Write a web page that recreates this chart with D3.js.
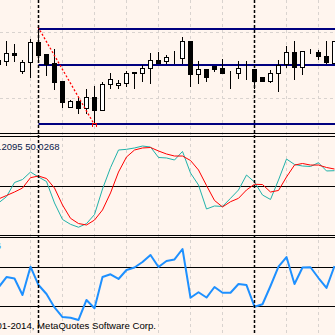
<!DOCTYPE html>
<html>
<head>
<meta charset="utf-8">
<script src="https://cdn.jsdelivr.net/npm/d3@7"></script>
<style>
  html, body { margin: 0; padding: 0; background: #fff5ee; }
  svg { display: block; }
</style>
</head>
<body>
<div id="chart"></div>
<script>
// bars (index 0 is the partly hidden bar at the left edge)
const opens = [1.3740, 1.3739, 1.3747, 1.3729, 1.3738, 1.3758, 1.3746, 1.3737, 1.3719, 1.3693,
  1.3699, 1.3692, 1.3703, 1.3690, 1.3716, 1.3715, 1.3717, 1.3727, 1.3727, 1.3732,
  1.3740, 1.3739, 1.37425, 1.3742, 1.3759, 1.3726, 1.3731, 1.3734, 1.3732, 1.3728,
  1.3727, 1.3732, 1.3731, 1.3723, 1.3719, 1.3727, 1.3736, 1.3748, 1.3733, 1.3748,
  1.3748, 1.3744, 1.3737];
const highs = [1.3742, 1.3759, 1.3756, 1.3740, 1.3761, 1.3773, 1.3746, 1.3751, 1.3719, 1.3700,
  1.3702, 1.3711, 1.3714, 1.3718, 1.3727, 1.3720, 1.3729, 1.3728, 1.3735, 1.3747,
  1.3748, 1.3745, 1.3749, 1.3763, 1.3759, 1.3739, 1.3731, 1.3734, 1.3741, 1.3729,
  1.3739, 1.3739, 1.3731, 1.3723, 1.3730, 1.3740, 1.3754, 1.3759, 1.3749, 1.3751,
  1.3750, 1.3759, 1.3759];
const lows = [1.3734, 1.3735, 1.3739, 1.3727, 1.3723, 1.3741, 1.3725, 1.3711, 1.3693, 1.3693,
  1.3687, 1.3687, 1.3676, 1.3690, 1.3712, 1.3712, 1.3714, 1.3712, 1.3719, 1.3717,
  1.3737, 1.3737, 1.3737, 1.3737, 1.3714, 1.3717, 1.3719, 1.3729, 1.3727, 1.3712,
  1.3722, 1.3721, 1.3712, 1.3719, 1.3718, 1.3709, 1.3733, 1.3721, 1.3726, 1.3747,
  1.3741, 1.3737, 1.3737];
const closes = [1.3736, 1.3747, 1.3745, 1.3738, 1.3758, 1.3745, 1.3736, 1.3718, 1.3698, 1.3699,
  1.3692, 1.3703, 1.3690, 1.3716, 1.3721, 1.3717, 1.3727, 1.3728, 1.3732, 1.3740,
  1.3737, 1.3743, 1.3743, 1.3759, 1.3726, 1.3731, 1.3723, 1.3731, 1.3727, 1.3728,
  1.3732, 1.3732, 1.3719, 1.3719, 1.3727, 1.3735, 1.3748, 1.3733, 1.3749, 1.3748,
  1.3744, 1.3738, 1.3759];

// stochastic %K / %D
const stochMain = [32.5, 39.0, 53.6, 56.7, 64.4, 59.3, 54.6, 32.5, 15.5, 10.5,
  7.5, 11.2, 20.6, 46.9, 68.9, 87.1, 87.8, 89.2, 91.2, 90.2,
  79.4, 78.9, 76.8, 85.6, 63.4, 51.0, 26.3, 29.4, 28.9, 37.3,
  45.9, 61.3, 54.1, 40.7, 36.1, 56.2, 77.8, 72.2, 70.6, 70.1,
  74.0, 65.5, 65.8];
const stochSignal = [36.6, 40.2, 43.8, 47.9, 58.6, 60.3, 57.7, 47.9, 30.4, 16.7,
  11.3, 9.8, 14.9, 25.3, 42.8, 64.4, 79.9, 87.1, 89.2, 89.7,
  86.1, 83.0, 80.9, 80.9, 76.3, 66.5, 50.5, 35.1, 28.4, 33.8,
  37.3, 45.9, 51.8, 51.5, 43.8, 45.4, 59.3, 71.6, 73.2, 71.6,
  71.6, 69.1, 67.5];

// RSI
const rsiValues = [48.7, 59.4, 57.9, 41.0, 70.0, 51.2, 42.0, 28.2, 18.4, 17.7,
  15.4, 35.9, 27.4, 59.4, 62.2, 57.4, 66.6, 69.2, 74.8, 82.0,
  69.7, 75.8, 77.4, 88.1, 38.2, 43.8, 38.4, 49.2, 43.3, 43.3,
  52.3, 51.2, 29.0, 31.5, 50.2, 70.0, 79.9, 52.3, 69.2, 69.4,
  58.4, 48.2, 70.7];

// fibo: anchors (bar index, price) and level prices
const fiboAnchors = [[5, 1.3773], [12, 1.3676]];
const fiboLevels = [1.3771, 1.3735, 1.3676];
const stochLevels = [50];
const rsiLevels = [70, 30];
const gridBars = [4, 8, 12, 16, 20, 24, 28, 36, 40];
const gridPrices = [1.3768, 1.3702];
const markerBars = [5, 32];

const W = 335, H = 335;
const bg = "#fff5ee";

const svg = d3.select("#chart").append("svg")
  .attr("width", W).attr("height", H)
  .style("background", bg);

const x = d3.scaleLinear().domain([0, 42]).range([-2, 334]);
const yPrice = d3.scaleLinear().domain([1.3667, 1.3800]).range([133, 0]);
const yStoch = d3.scaleLinear().domain([0, 100]).range([234.5, 137.5]);
const yRsi = d3.scaleLinear().domain([0, 100]).range([335, 237.4]);

const px = (i) => Math.round(x(i)) + 0.5;
const crisp = (v) => Math.round(v) + 0.5;

// pane clips
const panes = [["main", 0, 133], ["stoch", 137, 235], ["rsi", 238, 335]];
const defs = svg.append("defs");
panes.forEach(([id, y0, y1]) => {
  defs.append("clipPath").attr("id", "clip-" + id)
    .append("rect").attr("x", 0).attr("y", y0).attr("width", W).attr("height", y1 - y0);
});

// vertical grid
svg.append("g")
  .selectAll("line")
  .data(gridBars)
  .enter()
  .append("line")
  .attr("x1", (d) => px(d)).attr("x2", (d) => px(d))
  .attr("y1", 0).attr("y2", H)
  .attr("stroke", "#d9d3cf")
  .attr("stroke-dasharray", "3,3");

// horizontal grid (main)
svg.append("g")
  .selectAll("line")
  .data(gridPrices)
  .enter()
  .append("line")
  .attr("x1", 0).attr("x2", W)
  .attr("y1", (d) => crisp(yPrice(d))).attr("y2", (d) => crisp(yPrice(d)))
  .attr("stroke", "#d9d3cf")
  .attr("stroke-dasharray", "3,3");

// ---- main pane
const main = svg.append("g").attr("clip-path", "url(#clip-main)");

// fibo levels
main.selectAll(".fibo")
  .data(fiboLevels)
  .enter()
  .append("line")
  .attr("class", "fibo")
  .attr("x1", px(fiboAnchors[0][0])).attr("x2", W)
  .attr("y1", (d) => Math.round(yPrice(d))).attr("y2", (d) => Math.round(yPrice(d)))
  .attr("stroke", "#000080")
  .attr("stroke-width", 2);

// candles
const bars = d3.range(opens.length).map((i) => ({
  i, o: opens[i], h: highs[i], l: lows[i], c: closes[i]
}));

main.selectAll(".wick")
  .data(bars)
  .enter()
  .append("line")
  .attr("class", "wick")
  .attr("x1", (d) => px(d.i)).attr("x2", (d) => px(d.i))
  .attr("y1", (d) => Math.round(yPrice(d.h))).attr("y2", (d) => Math.round(yPrice(d.l)) + 1)
  .attr("stroke", "#000");

main.selectAll(".body")
  .data(bars)
  .enter()
  .append("rect")
  .attr("class", "body")
  .attr("x", (d) => px(d.i) - 2)
  .attr("y", (d) => crisp(yPrice(Math.max(d.o, d.c))))
  .attr("width", 4)
  .attr("height", (d) => Math.max(0, Math.round(yPrice(Math.min(d.o, d.c))) - Math.round(yPrice(Math.max(d.o, d.c)))))
  .attr("fill", (d) => (d.c >= d.o ? "#fff" : "#000"))
  .attr("stroke", "#000");

// fibo base line (red dashed)
main.append("line")
  .attr("x1", x(fiboAnchors[0][0])).attr("y1", yPrice(fiboAnchors[0][1]))
  .attr("x2", x(fiboAnchors[1][0])).attr("y2", yPrice(fiboAnchors[1][1]))
  .attr("stroke", "#ff0000")
  .attr("stroke-width", 1.3)
  .attr("stroke-dasharray", "2,2");

main.append("path")
  .attr("d", () => {
    const cx = px(fiboAnchors[1][0]), cy = Math.round(yPrice(fiboAnchors[1][1]));
    return `M${cx - 2},${cy + 3}V${cy - 0.5}H${cx + 2}V${cy + 3}`;
  })
  .attr("fill", "none")
  .attr("stroke", "#ff0000");

// ---- stochastic pane
const st = svg.append("g").attr("clip-path", "url(#clip-stoch)");

st.selectAll(".lvl")
  .data(stochLevels)
  .enter()
  .append("line")
  .attr("x1", 0).attr("x2", W)
  .attr("y1", (d) => crisp(yStoch(d))).attr("y2", (d) => crisp(yStoch(d)))
  .attr("stroke", "#000");

st.append("path")
  .datum(stochMain)
  .attr("fill", "none")
  .attr("stroke", "#20b2aa")
  .attr("d", d3.line().x((d, i) => px(i)).y((d) => yStoch(d)));

st.append("path")
  .datum(stochSignal)
  .attr("fill", "none")
  .attr("stroke", "#ff0000")
  .attr("d", d3.line().x((d, i) => px(i)).y((d) => yStoch(d)));

// ---- rsi pane
const rs = svg.append("g").attr("clip-path", "url(#clip-rsi)");

rs.selectAll(".lvl")
  .data(rsiLevels)
  .enter()
  .append("line")
  .attr("x1", 0).attr("x2", W)
  .attr("y1", (d) => crisp(yRsi(d))).attr("y2", (d) => crisp(yRsi(d)))
  .attr("stroke", "#000");

rs.append("path")
  .datum(rsiValues)
  .attr("fill", "none")
  .attr("stroke", "#1e90ff")
  .attr("stroke-width", 2)
  .attr("stroke-linejoin", "round")
  .attr("d", d3.line().x((d, i) => px(i)).y((d) => yRsi(d)));

// pane borders
[133.5, 136.5, 235.5, 237.5].forEach((y) => {
  svg.append("line")
    .attr("x1", 0).attr("x2", W).attr("y1", y).attr("y2", y)
    .attr("stroke", "#000");
});

// vertical dashed markers
svg.selectAll(".marker")
  .data(markerBars)
  .enter()
  .append("line")
  .attr("class", "marker")
  .attr("x1", (d) => px(d)).attr("x2", (d) => px(d))
  .attr("y1", 0).attr("y2", H)
  .attr("stroke", "#000")
  .attr("stroke-width", 1.5)
  .attr("stroke-dasharray", "3,2");

// labels (cut at the left edge, as in the terminal window)
svg.append("text")
  .attr("x", 59.5).attr("y", 149.5)
  .attr("text-anchor", "end")
  .attr("fill", "#0b1a4a")
  .style("font-family", "Liberation Sans, Arial, sans-serif")
  .style("font-size", "9.5px")
  .text("Stoch(5,3,3) 55.2095 50.0268");

svg.append("text")
  .attr("x", 1).attr("y", 249)
  .attr("text-anchor", "end")
  .attr("fill", "#1e90ff")
  .style("font-family", "Liberation Sans, Arial, sans-serif")
  .style("font-size", "9.5px")
  .text("RSI(14) 59.6");

svg.append("text")
  .attr("x", 156).attr("y", 329)
  .attr("text-anchor", "end")
  .attr("fill", "#000")
  .style("font-family", "Liberation Sans, Arial, sans-serif")
  .style("font-size", "9.6px")
  .text("Copyright 2001-2014, MetaQuotes Software Corp.");
</script>
</body>
</html>
